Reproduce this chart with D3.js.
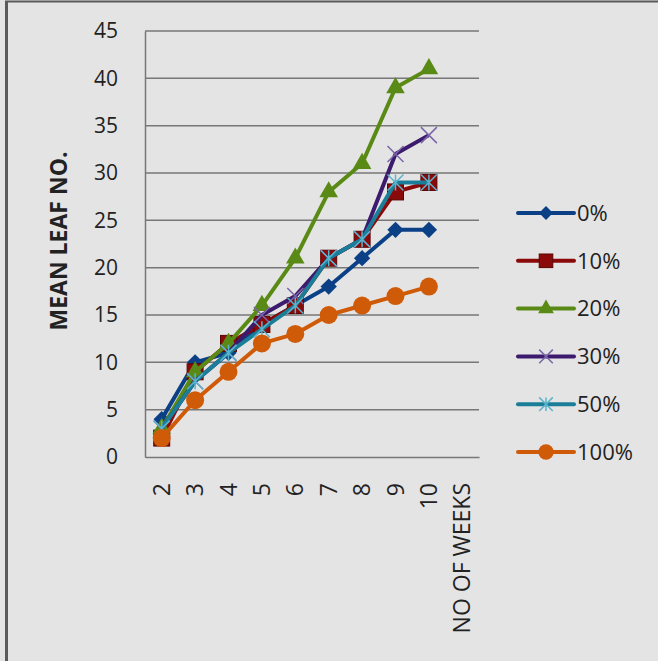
<!DOCTYPE html>
<html>
<head>
<meta charset="utf-8">
<script src="https://cdn.jsdelivr.net/npm/d3@7"></script>
<style>
  html, body { margin: 0; padding: 0; background: #e4e4e4; }
  svg { display: block; }
  text { font-family: "Open Sans", Lato, sans-serif; fill: #222; }
</style>
</head>
<body>
<div id="chart"></div>
<script>
// Mean leaf number per week, one line per treatment level
const weeks = ['2', '3', '4', '5', '6', '7', '8', '9', '10', 'NO OF WEEKS'];
const seriesNames = ['0%', '10%', '20%', '30%', '50%', '100%'];
const values0 = [4, 10, 11, 14, 16, 18, 21, 24, 24];
const values10 = [2, 9, 12, 14, 16, 21, 23, 28, 29];
const values20 = [3, 9, 12, 16, 21, 28, 31, 39, 41];
const values30 = [3, 8, 11, 15, 17, 21, 23, 32, 34];
const values50 = [3, 8, 11, 13.5, 16, 21, 23, 29, 29];
const values100 = [2, 6, 9, 12, 13, 15, 16, 17, 18];
const yTicks = [0, 5, 10, 15, 20, 25, 30, 35, 40, 45];

const W = 658, H = 661;
const margin = { top: 31, right: 179, bottom: 204, left: 145 };
const innerW = W - margin.left - margin.right;
const innerH = H - margin.top - margin.bottom;
const FONT = '"Open Sans", Lato, sans-serif';

const styles = [
    { color: '#0b3f86', marker: 'diamond' },
    { color: '#8a0a0a', marker: 'square' },
    { color: '#5a8a16', marker: 'triangle' },
    { color: '#3c1a6e', marker: 'x', mcolor: '#7a66a8' },
    { color: '#1a7e99', marker: 'star', mcolor: '#5cb3cc' },
    { color: '#cf5a08', marker: 'circle' }
];

const allValues = [values0, values10, values20, values30, values50, values100];
const series = seriesNames.map((name, i) => ({ name, values: allValues[i], ...styles[i] }));

const svg = d3.select('#chart').append('svg')
    .attr('width', W)
    .attr('height', H);

// outer frame (only left and top edges show in the picture)
svg.append('rect').attr('x', 0).attr('y', 0).attr('width', W).attr('height', H).attr('fill', '#e4e4e4');
svg.append('line').attr('x1', 6.5).attr('x2', 6.5).attr('y1', 1).attr('y2', H).attr('stroke', '#5a5a5a').attr('stroke-width', 3);
svg.append('line').attr('x1', 5).attr('x2', W).attr('y1', 1.5).attr('y2', 1.5).attr('stroke', '#5a5a5a').attr('stroke-width', 2);

const g = svg.append('g').attr('transform', `translate(${margin.left},${margin.top})`);

const x = d3.scaleBand().domain(weeks).range([0, innerW]);
const y = d3.scaleLinear().domain([0, 45]).range([innerH, 0]);
const cx = (i) => x(weeks[i]) + x.bandwidth() / 2;

// gridlines
g.selectAll('.grid')
    .data(yTicks.filter(t => t > 0))
    .enter().append('line')
    .attr('x1', 0).attr('x2', innerW)
    .attr('y1', d => y(d)).attr('y2', d => y(d))
    .attr('stroke', '#777').attr('stroke-width', 1.5);

// axes
const yAxis = g.append('g').call(d3.axisLeft(y).tickValues(yTicks).tickSize(0).tickPadding(27));
yAxis.select('.domain').attr('stroke', '#777').attr('stroke-width', 1.5);
yAxis.selectAll('text').attr('font-size', 21).attr('fill', '#222').style('font-family', FONT);

const xAxis = g.append('g')
    .attr('transform', `translate(0,${innerH})`)
    .call(d3.axisBottom(x).tickSize(0));
xAxis.select('.domain').attr('stroke', '#777').attr('stroke-width', 1.5);
xAxis.selectAll('text')
    .attr('font-size', 23).attr('fill', '#222')
    .style('font-family', FONT)
    .attr('transform', 'rotate(-90)')
    .attr('text-anchor', 'end')
    .attr('dy', '0.35em')
    .attr('dx', 0)
    .attr('x', -26)
    .attr('y', 0);

// y axis title
svg.append('text')
    .attr('transform', `translate(67,${margin.top + innerH / 2 - 3}) rotate(-90)`)
    .attr('text-anchor', 'middle')
    .attr('font-size', 23)
    .attr('font-weight', 'bold')
    .text('MEAN LEAF NO.');

function drawMarker(sel, s, px, py, scale) {
    const k = scale || 1;
    if (s.marker === 'diamond') {
        sel.append('path').attr('d', d3.symbol(d3.symbolDiamond2, 170 * k * k)()).attr('transform', `translate(${px},${py})`)
            .attr('fill', s.color);
    } else if (s.marker === 'square') {
        sel.append('rect').attr('x', px - 8 * k).attr('y', py - 8 * k).attr('width', 16 * k).attr('height', 16 * k)
            .attr('fill', s.color).attr('stroke', '#5a0505').attr('stroke-width', 1);
    } else if (s.marker === 'triangle') {
        sel.append('path').attr('d', d3.symbol(d3.symbolTriangle, 150 * k * k)()).attr('transform', `translate(${px},${py})`)
            .attr('fill', s.color);
    } else if (s.marker === 'x') {
        const r = 8 * k;
        sel.append('path').attr('d', `M${px - r},${py - r}L${px + r},${py + r}M${px - r},${py + r}L${px + r},${py - r}`)
            .attr('stroke', s.mcolor).attr('stroke-width', 1.5);
    } else if (s.marker === 'star') {
        const r = 8 * k;
        sel.append('path').attr('d', `M${px - r},${py - r}L${px + r},${py + r}M${px - r},${py + r}L${px + r},${py - r}M${px},${py - r}L${px},${py + r}`)
            .attr('stroke', s.mcolor).attr('stroke-width', 1.5);
    } else if (s.marker === 'circle') {
        sel.append('circle').attr('cx', px).attr('cy', py).attr('r', 9 * k).attr('fill', s.color);
    }
}

const line = d3.line().x((d, i) => cx(i)).y(d => y(d));

series.forEach(s => {
    const sg = g.append('g');
    sg.append('path')
        .datum(s.values)
        .attr('fill', 'none')
        .attr('stroke', s.color)
        .attr('stroke-width', 4)
        .attr('stroke-linejoin', 'round')
        .attr('d', line);
    s.values.forEach((v, i) => drawMarker(sg, s, cx(i), y(v)));
});

// legend
const legend = svg.append('g').attr('transform', 'translate(518,213)');
series.forEach((s, i) => {
    const row = legend.append('g').attr('transform', `translate(0,${i * 47.8})`);
    row.append('line').attr('x1', 0).attr('x2', 56).attr('y1', 0).attr('y2', 0)
        .attr('stroke', s.color).attr('stroke-width', 4).attr('stroke-linecap', 'round');
    drawMarker(row, s, 28, 0, 0.85);
    row.append('text').attr('x', 59).attr('y', 0).attr('dy', '0.35em')
        .attr('font-size', 22).text(s.name);
});
</script>
</body>
</html>
